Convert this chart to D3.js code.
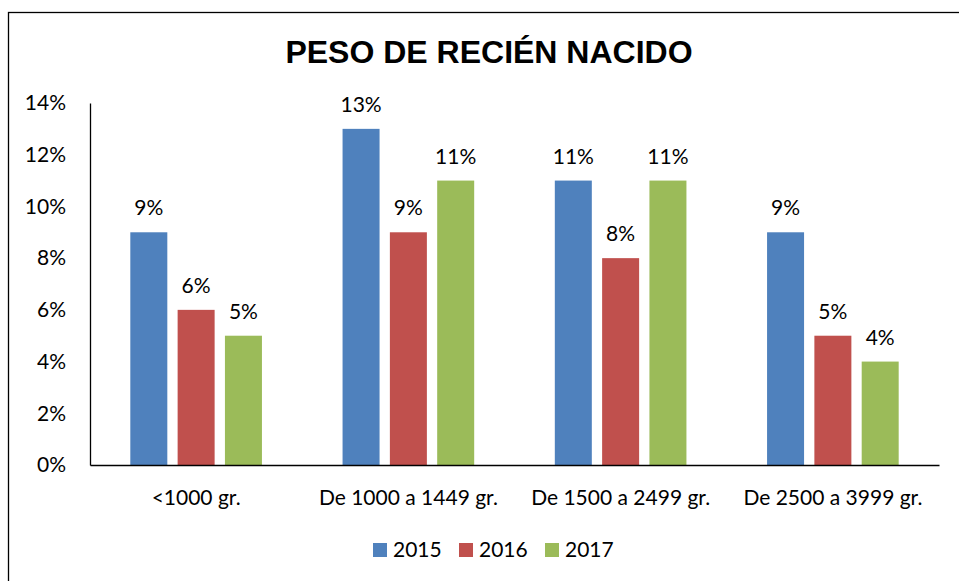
<!DOCTYPE html>
<html><head><meta charset="utf-8">
<script src="https://cdn.jsdelivr.net/npm/d3@7"></script>
<style>body{margin:0;background:#fff;} text{font-family:Lato,"Open Sans",sans-serif;}</style>
</head><body>
<svg id="c" width="959" height="581"></svg>
<script>
const categories = ["<1000 gr.", "De 1000 a 1449 gr.", "De 1500 a 2499 gr.", "De 2500 a 3999 gr."];
const seriesNames = ["2015", "2016", "2017"];
const values2015 = [9, 13, 11, 9];
const values2016 = [6, 9, 8, 5];
const values2017 = [5, 11, 11, 4];
const yTicks = [0, 2, 4, 6, 8, 10, 12, 14];
const colors = ["#4F81BD", "#C0504D", "#9BBB59"];
const title = "PESO DE RECIÉN NACIDO";

const series = [values2015, values2016, values2017];
const FS = "21px";
const svg = d3.select("#c");
svg.append("rect").attr("x", 8.5).attr("y", 12.5).attr("width", 1000).attr("height", 700)
  .attr("fill", "#fff").attr("stroke", "#000").attr("stroke-width", 1.3);

svg.append("text").attr("x", 489).attr("y", 63).attr("text-anchor", "middle")
  .style("font-family", "'Liberation Sans',Arial,sans-serif").style("font-weight", "bold")
  .style("font-size", "32px").text(title);

const x0 = 90, x1 = 939, yTop = 103, yBot = 465;
const x = d3.scaleBand().domain(categories).range([x0, x1]).paddingInner(0).paddingOuter(0);
const xs = d3.scaleBand().domain(seriesNames).range([0, x.bandwidth()]).paddingInner(0.218).paddingOuter(0.852);
const y = d3.scaleLinear().domain([0, 14]).range([yBot, yTop]);

// y tick labels
const yAxis = d3.axisLeft(y).tickValues(yTicks).tickFormat(d => d + "%").tickSize(0).tickPadding(24);
const gy = svg.append("g").attr("transform", `translate(${x0},0)`).call(yAxis);
gy.select(".domain").attr("stroke", "#000").attr("stroke-width", 1.3);
gy.selectAll("text").style("font-family", "Lato,'Open Sans',sans-serif").style("font-size", FS).attr("fill", "#000");

// bars
categories.forEach((c, ci) => {
  series.forEach((vals, si) => {
    const bx = x(c) + xs(seriesNames[si]);
    svg.append("rect").attr("x", bx).attr("y", y(vals[ci])).attr("width", xs.bandwidth())
      .attr("height", y(0) - y(vals[ci])).attr("fill", colors[si]);
    svg.append("text").attr("x", bx + xs.bandwidth() / 2).attr("y", y(vals[ci]) - 17)
      .attr("text-anchor", "middle").style("font-size", FS).text(vals[ci] + "%");
  });
});

// x axis
const xAxis = d3.axisBottom(x).tickSize(0).tickPadding(25);
const gx = svg.append("g").attr("transform", `translate(0,${yBot})`).call(xAxis);
gx.select(".domain").attr("stroke", "#000").attr("stroke-width", 1.3);
gx.selectAll("text").style("font-family", "Lato,'Open Sans',sans-serif").style("font-size", FS).attr("fill", "#000");

// legend
const legX = [373, 459, 545];
seriesNames.forEach((n, i) => {
  svg.append("rect").attr("x", legX[i]).attr("y", 543).attr("width", 14).attr("height", 14).attr("fill", colors[i]);
  svg.append("text").attr("x", legX[i] + 20).attr("y", 557).style("font-size", FS).text(n);
});
</script>
</body></html>
